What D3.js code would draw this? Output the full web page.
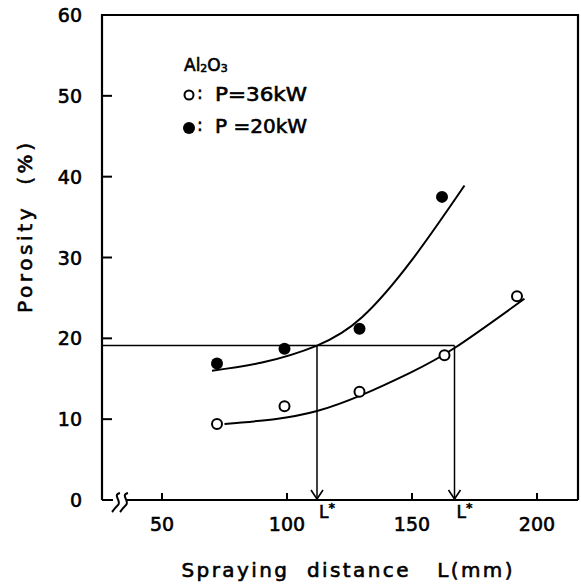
<!DOCTYPE html>
<html>
<head>
<meta charset="utf-8">
<script src="https://cdn.jsdelivr.net/npm/d3@7"></script>
<style>
	body { margin: 0; background: #fff; }
	svg { display: block; }
	text { font-family: "DejaVu Sans", sans-serif; fill: #000; stroke: #000; stroke-width: 0.6px; white-space: pre; }
</style>
</head>
<body>
<div class="container"></div>
<script>
// measured points
var p36L = [72, 99, 129, 163, 192],
	p36P = [9.4, 11.6, 13.4, 17.9, 25.2],
	p20L = [72, 99, 129, 162],
	p20P = [16.9, 18.7, 21.2, 37.5];

// hand-drawn fit curves
var fit36L = [75, 95, 112, 130, 149, 167, 195],
	fit36P = [9.4, 10.0, 11.0, 13.0, 15.7, 18.8, 24.9],
	fit20L = [70, 90, 112, 130, 150, 171],
	fit20P = [16.0, 17.0, 19.1, 22.6, 29.7, 38.9];

// L* construction
var critP = 19.1,
	critL = [112, 167];

var xTicks = [50, 100, 150, 200],
	yTicks = [0, 10, 20, 30, 40, 50, 60];

var width = 581,
	height = 586;

var svg = d3.select('.container')
	.append('svg')
	.attr('width', width)
	.attr('height', height);

var x = d3.scaleLinear().domain([50, 200]).range([162, 537]),
	y = d3.scaleLinear().domain([0, 60]).range([500, 15]);

var frameL = 102,
	frameR = 578,
	frameT = y(60),
	frameB = y(0);

var ink = svg.append('g')
	.attr('fill', 'none')
	.attr('stroke', '#000');

// frame (left, top, right)
ink.append('path')
	.attr('stroke-width', 2.2)
	.attr('d', 'M' + frameL + ',' + frameB + 'V' + frameT + 'H' + frameR + 'V' + frameB);

// bottom axis with break
ink.append('path')
	.attr('stroke-width', 2.2)
	.attr('d', 'M' + frameL + ',' + frameB + 'H' + 113 + 'M' + 126 + ',' + frameB + 'H' + frameR);

ink.selectAll('.brk')
	.data([0, 8])
	.enter().append('path')
	.attr('class', 'brk')
	.attr('stroke-width', 2)
	.attr('d', function (d) {
		var cx = 117 + d;
		return 'M' + (cx + 3) + ',' + (frameB - 7) +
			'C' + (cx - 5) + ',' + (frameB - 5) + ' ' + (cx + 5) + ',' + (frameB + 1) + ' ' + (cx + 1) + ',' + (frameB + 5) +
			'S' + (cx - 4) + ',' + (frameB + 11) + ' ' + (cx - 5) + ',' + (frameB + 12);
	});

// y ticks (inward)
ink.selectAll('.ytick')
	.data(yTicks.slice(1, -1))
	.enter().append('line')
	.attr('class', 'ytick')
	.attr('stroke-width', 2)
	.attr('x1', frameL)
	.attr('x2', frameL + 10)
	.attr('y1', function (d) { return y(d); })
	.attr('y2', function (d) { return y(d); });

// x ticks (inward)
ink.selectAll('.xtick')
	.data(xTicks)
	.enter().append('line')
	.attr('class', 'xtick')
	.attr('stroke-width', 2)
	.attr('x1', function (d) { return x(d); })
	.attr('x2', function (d) { return x(d); })
	.attr('y1', frameB)
	.attr('y2', frameB - 7);

svg.selectAll('.ylab')
	.data(yTicks)
	.enter().append('text')
	.attr('class', 'ylab')
	.attr('x', 82)
	.attr('y', function (d) { return y(d) + 7; })
	.attr('text-anchor', 'end')
	.style('font-size', '19px')
	.text(function (d) { return d; });

svg.selectAll('.xlab')
	.data(xTicks)
	.enter().append('text')
	.attr('class', 'xlab')
	.attr('x', function (d) { return x(d); })
	.attr('y', 531)
	.attr('text-anchor', 'middle')
	.style('font-size', '19px')
	.text(function (d) { return d; });

// fitted curves
var line = d3.line()
	.x(function (d) { return x(d[0]); })
	.y(function (d) { return y(d[1]); })
	.curve(d3.curveNatural);

ink.append('path')
	.attr('stroke-width', 2)
	.attr('d', line(d3.zip(fit36L, fit36P)));

ink.append('path')
	.attr('stroke-width', 2)
	.attr('d', line(d3.zip(fit20L, fit20P)));

// L* construction lines
ink.append('line')
	.attr('stroke-width', 1.5)
	.attr('x1', frameL)
	.attr('x2', x(critL[1]))
	.attr('y1', y(critP))
	.attr('y2', y(critP));

critL.forEach(function (l) {
	var cx = x(l);
	ink.append('line')
		.attr('stroke-width', 1.5)
		.attr('x1', cx)
		.attr('x2', cx)
		.attr('y1', y(critP))
		.attr('y2', frameB);
	ink.append('path')
		.attr('stroke-width', 1.6)
		.attr('d', 'M' + (cx - 6) + ',' + (frameB - 10) + 'L' + cx + ',' + (frameB - 1) + 'L' + (cx + 6) + ',' + (frameB - 10));

	var lab = svg.append('text')
		.attr('x', cx + 2)
		.attr('y', 518)
		.style('font-size', '17px');
	lab.append('tspan').text('L');
	lab.append('tspan')
		.attr('dy', -6)
		.style('font-size', '13px')
		.text('*');
});

// data points
svg.selectAll('.open')
	.data(d3.zip(p36L, p36P))
	.enter().append('circle')
	.attr('class', 'open')
	.attr('cx', function (d) { return x(d[0]); })
	.attr('cy', function (d) { return y(d[1]); })
	.attr('r', 5)
	.attr('fill', '#fff')
	.attr('stroke', '#000')
	.attr('stroke-width', 2);

svg.selectAll('.filled')
	.data(d3.zip(p20L, p20P))
	.enter().append('circle')
	.attr('class', 'filled')
	.attr('cx', function (d) { return x(d[0]); })
	.attr('cy', function (d) { return y(d[1]); })
	.attr('r', 6)
	.attr('fill', '#000');

// legend
var leg = svg.append('g');

var title = leg.append('text')
	.attr('x', 184)
	.attr('y', 71)
	.style('font-size', '17px');
title.append('tspan').text('Al');
title.append('tspan').attr('dy', 1).style('font-size', '11px').text('2');
title.append('tspan').attr('dy', -1).text('O');
title.append('tspan').attr('dy', 1).style('font-size', '11px').text('3');

leg.append('circle')
	.attr('cx', 189)
	.attr('cy', 95)
	.attr('r', 4.5)
	.attr('fill', '#fff')
	.attr('stroke', '#000')
	.attr('stroke-width', 2);

leg.append('circle')
	.attr('cx', 189)
	.attr('cy', 128)
	.attr('r', 6)
	.attr('fill', '#000');

leg.selectAll('.colon')
	.data([0, 1])
	.enter().append('text')
	.attr('class', 'colon')
	.attr('x', 197)
	.attr('y', function (d) { return 99 + d * 32; })
	.style('font-size', '17px')
	.text(':');

leg.selectAll('.legtxt')
	.data(['P=36kW', 'P =20kW'])
	.enter().append('text')
	.attr('class', 'legtxt')
	.attr('x', 215)
	.attr('y', function (d, i) { return 101 + i * 32; })
	.attr('textLength', 92)
	.attr('lengthAdjust', 'spacingAndGlyphs')
	.style('font-size', '19px')
	.text(function (d) { return d; });

// axis titles
svg.append('text')
	.attr('transform', 'translate(32,228) rotate(-90)')
	.attr('text-anchor', 'middle')
	.attr('textLength', 170)
	.attr('lengthAdjust', 'spacing')
	.style('font-size', '20px')
	.text('Porosity  (%)');

svg.append('text')
	.attr('x', 347)
	.attr('y', 577)
	.attr('text-anchor', 'middle')
	.attr('textLength', 331)
	.attr('lengthAdjust', 'spacing')
	.style('font-size', '20px')
	.text('Spraying  distance   L(mm)');
</script>
</body>
</html>
